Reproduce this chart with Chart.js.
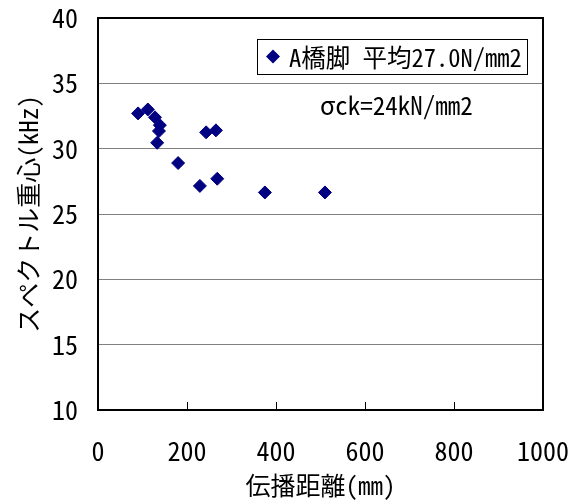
<!DOCTYPE html>
<html>
<head>
<meta charset="utf-8">
<script src="https://cdn.jsdelivr.net/npm/chart.js@4.4.0/dist/chart.umd.min.js"></script>
<style>
  html, body { margin: 0; padding: 0; background: #fff; }
</style>
</head>
<body>
<canvas id="chart" width="583" height="500"></canvas>
<script>
// values
const distances = [90, 112, 128, 139, 137, 133, 180, 229, 268, 243, 265, 375, 510];
const centroids = [32.7, 33.0, 32.4, 31.8, 31.35, 30.45, 28.9, 27.15, 27.7, 31.25, 31.4, 26.65, 26.65];
const seriesLabel = "A橋脚 平均27.0N/mm2";
const noteText = "σck=24kN/mm2";
const xTitle = "伝播距離(mm)";
const yTitle = "スペクトル重心(kHz)";
const xRange = [0, 1000];
const yRange = [10, 40];
const xStep = 200;
const yStep = 5;

const FONT = "'Noto Sans Mono CJK JP', 'Noto Sans CJK JP', sans-serif";
const NAVY = "#000080";

// frame, inner x ticks, legend box and note
const overlay = {
  id: "overlay",
  afterDraw(chart) {
    const { ctx, chartArea: a, scales } = chart;
    ctx.save();

    ctx.strokeStyle = "#000";
    ctx.lineWidth = 1;
    scales.x.ticks.forEach(t => {
      if (t.value === xRange[0] || t.value === xRange[1]) return;
      const px = Math.round(scales.x.getPixelForValue(t.value)) + 0.5;
      ctx.beginPath();
      ctx.moveTo(px, a.bottom);
      ctx.lineTo(px, a.bottom - 8);
      ctx.stroke();
    });

    ctx.lineWidth = 2;
    ctx.strokeRect(a.left, a.top, a.right - a.left, a.bottom - a.top);

    // legend
    const bx = a.right - 286, by = a.top + 21, bw = 270, bh = 35;
    ctx.fillStyle = "#fff";
    ctx.fillRect(bx, by, bw, bh);
    ctx.lineWidth = 1;
    ctx.strokeStyle = "#000";
    ctx.strokeRect(bx + 0.5, by + 0.5, bw, bh);
    const ds = chart.data.datasets[0];
    ctx.fillStyle = ds.backgroundColor;
    Chart.helpers.drawPoint(ctx, { pointStyle: "rectRot", radius: 7, borderWidth: 0 }, bx + 16, by + bh / 2);
    ctx.fillStyle = "#000";
    ctx.font = "24.5px " + FONT;
    ctx.textAlign = "left";
    ctx.textBaseline = "middle";
    ctx.fillText(ds.label, bx + 32, by + bh / 2 + 1);

    ctx.font = "25px " + FONT;
    ctx.fillText(noteText, a.left + 222, a.top + 87);
    ctx.restore();
  }
};

new Chart(document.getElementById("chart"), {
  type: "scatter",
  data: {
    datasets: [{
      label: seriesLabel,
      data: distances.map((d, i) => ({ x: d, y: centroids[i] })),
      backgroundColor: NAVY,
      borderColor: NAVY,
      borderWidth: 1,
      pointStyle: "rectRot",
      pointRadius: 6.5,
      pointHoverRadius: 6.5
    }]
  },
  options: {
    responsive: false,
    animation: false,
    layout: { padding: { left: 0, right: 40, top: 18, bottom: 0 } },
    plugins: {
      legend: { display: false },
      tooltip: { enabled: false }
    },
    scales: {
      x: {
        type: "linear",
        min: xRange[0],
        max: xRange[1],
        afterFit: s => {
          s.height = 90;
          s.paddingLeft = 0;
          s.paddingRight = 0;
        },
        border: { display: false },
        grid: { display: false, drawTicks: false },
        ticks: {
          stepSize: xStep,
          padding: 26,
          color: "#000",
          font: { family: FONT, size: 26 },
          callback: v => String(v)
        },
        title: {
          display: true,
          text: xTitle,
          color: "#000",
          padding: { top: 0, bottom: 0 },
          font: { family: FONT, size: 25 }
        }
      },
      y: {
        type: "linear",
        min: yRange[0],
        max: yRange[1],
        afterFit: s => {
          s.width = 98;
          s.paddingTop = 0;
          s.paddingBottom = 0;
        },
        border: { display: false },
        grid: { color: "#808080", lineWidth: 1, drawTicks: false },
        ticks: {
          stepSize: yStep,
          padding: 20,
          color: "#000",
          font: { family: FONT, size: 26 }
        },
        title: {
          display: true,
          text: yTitle,
          color: "#000",
          padding: { top: 13, bottom: 0 },
          font: { family: FONT, size: 25 }
        }
      }
    }
  },
  plugins: [overlay]
});
</script>
</body>
</html>
